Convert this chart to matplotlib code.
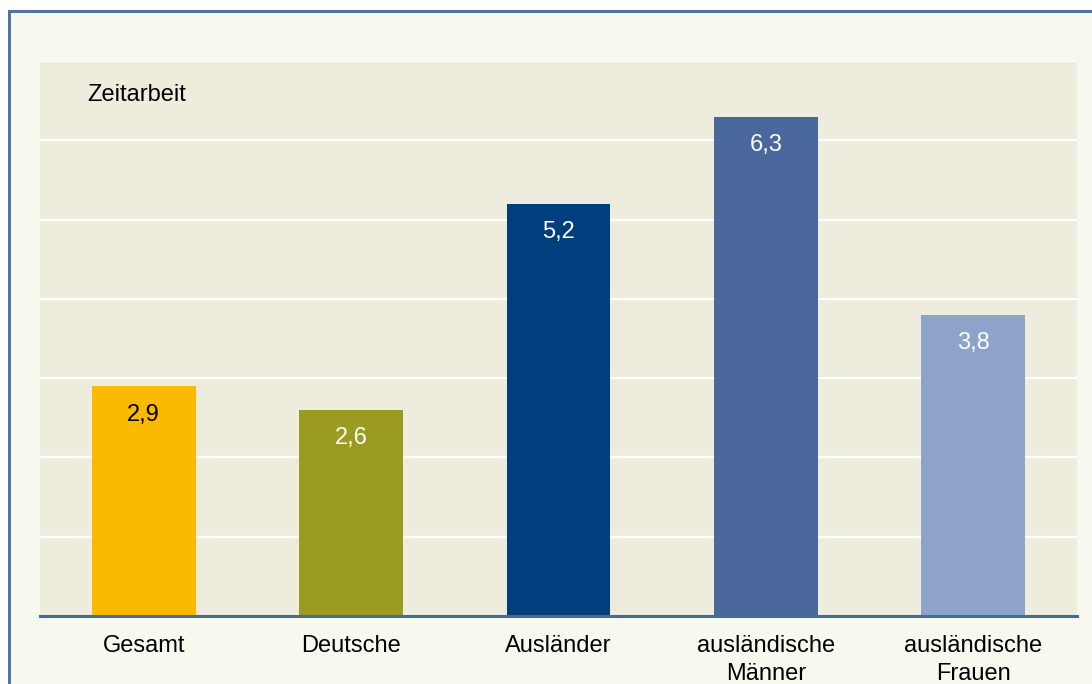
import matplotlib.pyplot as plt
from matplotlib.patches import Rectangle

plt.rcParams['font.family'] = ['Liberation Sans', 'DejaVu Sans']

categories = ['Gesamt', 'Deutsche', 'Ausländer', 'ausländische\nMänner', 'ausländische\nFrauen']
values = [2.9, 2.6, 5.2, 6.3, 3.8]
labels = ['2,9', '2,6', '5,2', '6,3', '3,8']
colors = ['#FBB900', '#9A9B20', '#003E7E', '#4A689D', '#8EA3C9']
label_colors = ['black', 'white', 'white', 'white', 'white']

fig = plt.figure(figsize=(10.92, 6.84), dpi=100)
fig.patch.set_facecolor('white')

# outer frame (cut at the right and bottom like the original)
frame = Rectangle((9 / 1092, -0.1), 1.2, (684 - 11) / 684 + 0.1, transform=fig.transFigure,
                  facecolor='#F8F9EE', edgecolor='#5470A5', linewidth=2.2, zorder=-1)
fig.patches.append(frame)

ax = fig.add_axes([40 / 1092, (684 - 616) / 684, (1077 - 40) / 1092, (616 - 61) / 684])
ax.set_zorder(2)
ax.set_facecolor('#EEECDD')

x = list(range(len(categories)))
bars = ax.bar(x, values, width=0.5, color=colors, zorder=3)

for b, lab, c in zip(bars, labels, label_colors):
    ax.annotate(lab, (b.get_x() + b.get_width() / 2, b.get_height()),
                xytext=(0, -20.5), textcoords='offset points',
                ha='center', va='center', fontsize=17, color=c, zorder=4)

ax.set_xlim(-0.5, 4.5)
ax.set_ylim(0, 7)
ax.set_yticks(range(1, 8))
ax.yaxis.grid(True, color='white', linewidth=1.6, zorder=1)
ax.set_axisbelow(True)
ax.tick_params(axis='y', left=False, labelleft=False)
ax.set_xticks(x)
ax.set_xticklabels(categories, fontsize=17, linespacing=1.35)
ax.tick_params(axis='x', length=0, pad=14)

for s in ['top', 'right', 'left']:
    ax.spines[s].set_visible(False)
ax.spines['bottom'].set_color('#4A689D')
ax.spines['bottom'].set_linewidth(2.2)
ax.spines['bottom'].set_zorder(5)

ax.text(0.046, 6.57, 'Zeitarbeit', transform=ax.get_yaxis_transform(),
        fontsize=17, va='center', ha='left')

plt.savefig('out.png', dpi=100)
